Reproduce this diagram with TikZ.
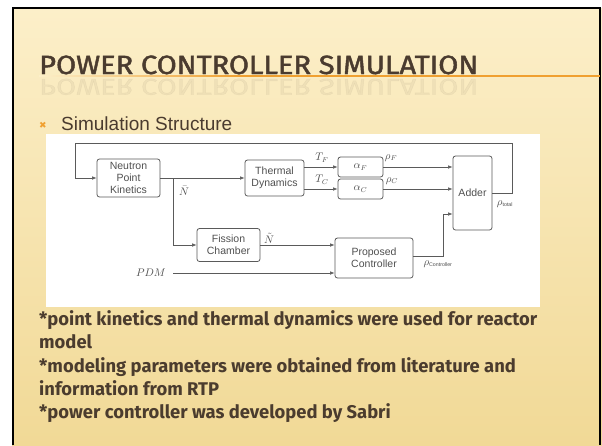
\documentclass[tikz,border=0pt]{standalone}
\usepackage{fontspec}
\setmainfont{Liberation Sans}
\newfontfamily\titlefont[FakeBold=1.6]{Fira Sans}
\newfontfamily\bodyfont{Fira Sans}
\newfontfamily\diagfont{Liberation Sans}
\newfontfamily\symfont{DejaVu Sans}
\usetikzlibrary{arrows.meta,calc}
\definecolor{slidetop}{HTML}{FCEFC9}
\definecolor{slidebot}{HTML}{F1D996}
\definecolor{titlecol}{HTML}{4A3B2F}
\definecolor{bodycol}{HTML}{4B3C2E}
\definecolor{orangeline}{HTML}{F0A030}
\definecolor{bulletcol}{HTML}{F0A030}
\definecolor{diagline}{HTML}{5A5A5A}
\definecolor{diagtext}{HTML}{505050}
\tikzset{
  blk/.style={draw=diagline, line width=0.8pt, rounded corners=2.5pt, inner sep=0pt,
    align=center, text=diagtext, font=\diagfont\fontsize{10.5}{12}\selectfont},
  sig/.style={draw=diagline, line width=0.6pt},
  arr/.style={sig, -{Latex[length=4.5pt,width=3.5pt]}},
  lab/.style={text=diagtext, inner sep=0pt, font=\fontsize{10.5}{11}\selectfont},
  bodyline/.style={anchor=base west, inner sep=0pt, text=bodycol,
    font=\bodyfont\bfseries\fontsize{18.4}{18.4}\selectfont},
}
\begin{document}
\begin{tikzpicture}[x=1pt,y=-1pt]
\useasboundingbox (0,0) rectangle (602,445);
\fill[white] (0,0) rectangle (602,445);
\shade[top color=slidetop, bottom color=slidebot] (12,8) rectangle (602,445);
\draw[black, line width=2pt] (13,445) -- (13,8) -- (600,8) -- (600,445);

% title
\node[anchor=base west, inner sep=0pt, text=titlecol, opacity=0.06, yscale=-1, transform shape] (refl) at (39,79)
  {\resizebox{439pt}{16pt}{\titlefont POWER CONTROLLER SIMULATION}};
\node[anchor=base west, inner sep=0pt, text=titlecol] (title) at (39,74)
  {\resizebox{439pt}{18.5pt}{\titlefont POWER CONTROLLER SIMULATION}};
\shade[left color=slidetop, right color=orangeline] (39,75) rectangle (240,76.8);
\fill[orangeline] (240,75) rectangle (600,76.8);

% bullet
\node[text=bulletcol, inner sep=0pt] (bul) at (43,125) {\symfont\fontsize{9}{9}\selectfont ✖};
\node[anchor=base west, inner sep=0pt, text=titlecol] (sub) at (61,130)
  {\fontsize{19}{19}\selectfont Simulation Structure};

% diagram image area
\fill[white] (46,134) rectangle (540,307);

\node[blk, minimum width=63pt, minimum height=38pt] (npk) at (128.5,178) {Neutron\\Point\\Kinetics};
\node[blk, minimum width=59pt, minimum height=36pt] (td) at (274.5,178) {Thermal\\Dynamics};
\node[blk, minimum width=45pt, minimum height=20pt] (aF) at (360.5,167) {$\alpha_F$};
\node[blk, minimum width=45pt, minimum height=20pt] (aC) at (360.5,189) {$\alpha_C$};
\node[blk, minimum width=39pt, minimum height=74pt] (add) at (472.5,193) {Adder};
\node[blk, minimum width=63pt, minimum height=33pt] (fc) at (228.5,245) {Fission\\Chamber};
\node[blk, minimum width=78pt, minimum height=40pt] (pc) at (374,258) {Proposed\\Controller};

\coordinate (fbR) at (512,143);
\coordinate (fbL) at (75,143);
\coordinate (br) at (173,178);
\coordinate (pdm) at (173,273);
\coordinate (kink) at (443,214);

\draw[arr] (npk.east) -- (td.west);
\draw[arr] (br) |- (fc.west);
\draw[arr] (td.east |- aF.west) -- (aF.west);
\draw[arr] (td.east |- aC.west) -- (aC.west);
\draw[arr] (aF.east) -- (add.west |- aF.east);
\draw[arr] (aC.east) -- (add.west |- aC.east);
\draw[arr] (fc.east) -- (pc.west |- fc.east);
\draw[arr] (pdm) -- (pc.west |- pdm);
\draw[arr] ($(pc.east)+(0,-2)$) -| (kink) -- (add.west |- kink);
\draw[arr] (add.east) -| (fbR) -- (fbL) |- (npk.west);

\node[lab] (nbar) at (184,191) {$\bar{N}$};
\node[lab] (ntil) at (269,238) {$\tilde{N}$};
\node[lab, anchor=east] (pdml) at (166,273) {$PDM$};
\node[lab] (tf) at (322,158) {$T_F$};
\node[lab] (tc) at (322,180) {$T_C$};
\node[lab] (rf) at (391,158) {$\rho_F$};
\node[lab] (rc) at (392,181) {$\rho_C$};
\node[lab] (rt) at (505,204) {$\rho_{\scriptscriptstyle\mathrm{total}}$};
\node[lab] (rctl) at (438,264) {$\rho_{\scriptscriptstyle\mathrm{Controller}}$};

% body text
\node[bodyline] (l1) at (39,325) {*point kinetics and thermal dynamics were used for reactor};
\node[bodyline] (l2) at (39,348) {model};
\node[bodyline] (l3) at (39,372) {*modeling parameters were obtained from literature and};
\node[bodyline] (l4) at (39,395) {information from RTP};
\node[bodyline] (l5) at (39,418) {*power controller was developed by Sabri};
\end{tikzpicture}
\end{document}
